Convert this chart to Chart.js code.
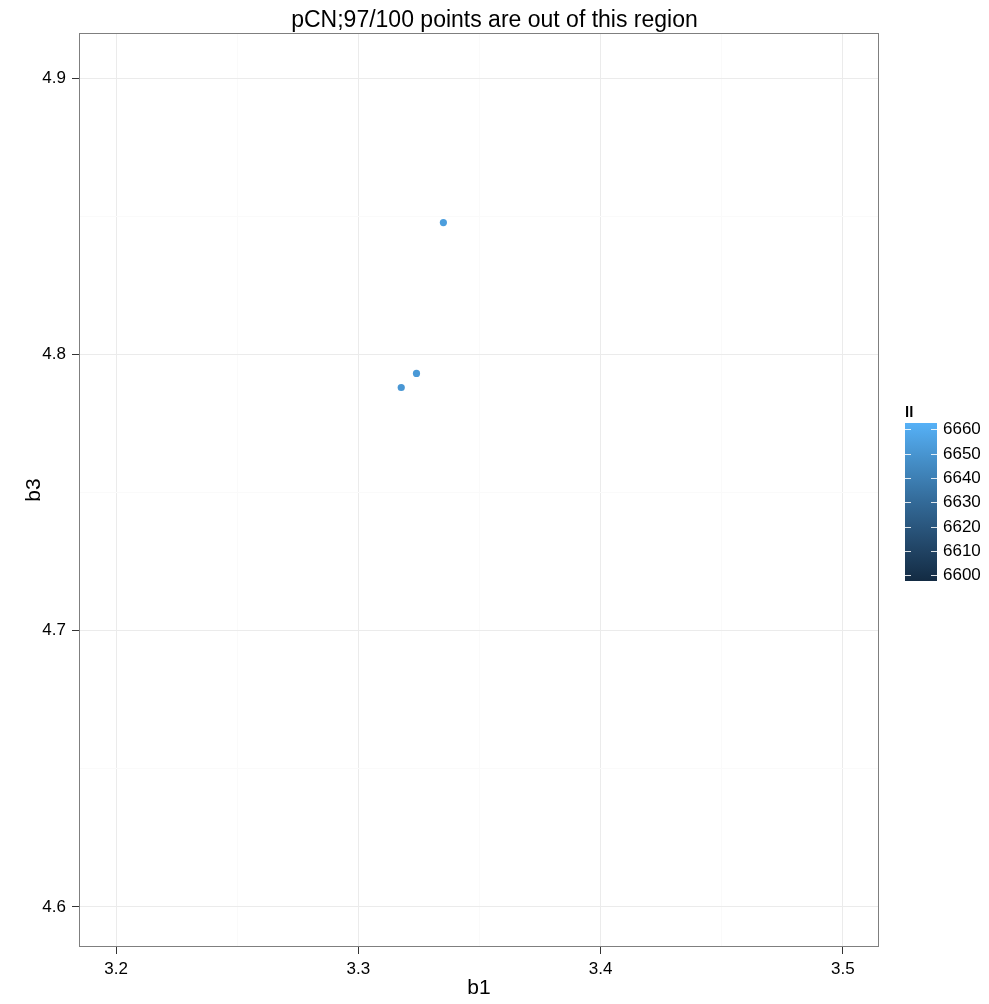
<!DOCTYPE html>
<html>
<head>
<meta charset="utf-8">
<script src="https://cdn.jsdelivr.net/npm/chart.js@4/dist/chart.umd.min.js"></script>
<style>
  html, body { margin: 0; padding: 0; background: #fff; }
  #wrap { width: 989px; height: 1004px; }
</style>
</head>
<body>
<div id="wrap"><canvas id="scatter"></canvas></div>
<script>
// data
var b1 = [3.3351, 3.3240, 3.3177];
var b3 = [4.8477, 4.7931, 4.7880];
var ll = [6654, 6652, 6651];

var xMajor = [3.2, 3.3, 3.4, 3.5];
var xMinor = [3.25, 3.35, 3.45];
var yMajor = [4.6, 4.7, 4.8, 4.9];
var yMinor = [4.65, 4.75, 4.85];
var llBreaks = [6600, 6610, 6620, 6630, 6640, 6650, 6660];
var llLimits = [6597.7, 6662.6];

var FONT = "'Liberation Sans', Arial, sans-serif";

// approx of ggplot's Lab gradient #132B43 -> #56B1F7
var gradStops = [
    [0, [19, 43, 67]],
    [0.25, [36, 74, 109]],
    [0.5, [51, 106, 152]],
    [0.75, [68, 141, 198]],
    [1, [86, 177, 247]]
];
function llColor(v) {
    var t = (v - llLimits[0]) / (llLimits[1] - llLimits[0]);
    t = Math.max(0, Math.min(1, t));
    for (var i = 1; i < gradStops.length; i++) {
        if (t <= gradStops[i][0]) {
            var a = gradStops[i - 1], b = gradStops[i];
            var f = (t - a[0]) / (b[0] - a[0]);
            var c = a[1].map(function(x, k) { return Math.round(x + (b[1][k] - x) * f); });
            return 'rgb(' + c.join(',') + ')';
        }
    }
    return 'rgb(86,177,247)';
}

function isMajor(v, list) {
    return list.some(function(m) { return Math.abs(m - v) < 1e-6; });
}

var panelPlugin = {
    id: 'panel',
    afterDraw: function(chart) {
        var ctx = chart.ctx, a = chart.chartArea;
        ctx.save();
        // panel border
        ctx.strokeStyle = '#7f7f7f';
        ctx.lineWidth = 1;
        ctx.strokeRect(a.left + 0.5, a.top + 0.5, a.right - a.left - 1, a.bottom - a.top - 1);

        // colour bar legend
        var bx = a.right + 26, by = 423, bw = 32, bh = 158;
        ctx.fillStyle = '#000';
        ctx.font = 'bold 15px ' + FONT;
        ctx.textAlign = 'left';
        ctx.textBaseline = 'alphabetic';
        ctx.fillText('ll', bx, by - 6);

        var g = ctx.createLinearGradient(0, by + bh, 0, by);
        gradStops.forEach(function(s) { g.addColorStop(s[0], 'rgb(' + s[1].join(',') + ')'); });
        ctx.fillStyle = g;
        ctx.fillRect(bx, by, bw, bh);

        ctx.font = '17px ' + FONT;
        ctx.textBaseline = 'middle';
        llBreaks.forEach(function(v) {
            var y = Math.round(by + bh - (v - llLimits[0]) / (llLimits[1] - llLimits[0]) * bh) + 0.5;
            ctx.strokeStyle = 'rgba(255,255,255,0.85)';
            ctx.beginPath();
            ctx.moveTo(bx, y); ctx.lineTo(bx + 6, y);
            ctx.moveTo(bx + bw - 6, y); ctx.lineTo(bx + bw, y);
            ctx.stroke();
            ctx.fillStyle = '#000';
            ctx.fillText(String(v), bx + bw + 6, y);
        });
        ctx.restore();
    }
};

document.addEventListener('DOMContentLoaded', function() {
    var ctx = document.getElementById('scatter').getContext('2d');
    var points = b1.map(function(x, i) { return { x: x, y: b3[i] }; });

    new Chart(ctx, {
        type: 'scatter',
        data: {
            datasets: [{
                label: 'll',
                data: points,
                backgroundColor: ll.map(llColor),
                borderWidth: 0,
                pointRadius: 3.6,
                pointHoverRadius: 3.6
            }]
        },
        options: {
            responsive: true,
            maintainAspectRatio: false,
            animation: false,
            layout: { padding: 0 },
            plugins: {
                legend: { display: false },
                tooltip: { enabled: false },
                title: {
                    display: true,
                    text: 'pCN;97/100 points are out of this region',
                    color: '#000',
                    font: { family: FONT, size: 23, weight: 'normal', lineHeight: 1.0 },
                    padding: { top: 9, bottom: 1 }
                }
            },
            scales: {
                x: {
                    type: 'linear',
                    min: 3.1847,
                    max: 3.5149,
                    afterBuildTicks: function(s) {
                        s.ticks = xMajor.concat(xMinor).sort().map(function(v) { return { value: v }; });
                    },
                    afterFit: function(s) { s.height = 57; },
                    border: { display: false },
                    grid: {
                        color: function(c) { return isMajor(c.tick.value, xMajor) ? '#ebebeb' : '#fafafa'; },
                        tickColor: function(c) { return isMajor(c.tick.value, xMajor) ? '#333333' : 'rgba(0,0,0,0)'; },
                        tickLength: 7,
                        lineWidth: 1
                    },
                    ticks: {
                        autoSkip: false,
                        maxRotation: 0,
                        padding: 5,
                        color: '#000',
                        font: { family: FONT, size: 17 },
                        callback: function(v) { return isMajor(v, xMajor) ? v.toFixed(1) : ''; }
                    },
                    title: {
                        display: true,
                        text: 'b1',
                        color: '#000',
                        font: { family: FONT, size: 21 },
                        padding: { top: 0, bottom: 3 }
                    }
                },
                y: {
                    type: 'linear',
                    min: 4.5855,
                    max: 4.9163,
                    afterBuildTicks: function(s) {
                        s.ticks = yMajor.concat(yMinor).sort().map(function(v) { return { value: v }; });
                    },
                    afterFit: function(s) { s.width = 79; },
                    border: { display: false },
                    grid: {
                        color: function(c) { return isMajor(c.tick.value, yMajor) ? '#ebebeb' : '#fafafa'; },
                        tickColor: function(c) { return isMajor(c.tick.value, yMajor) ? '#333333' : 'rgba(0,0,0,0)'; },
                        tickLength: 7,
                        lineWidth: 1
                    },
                    ticks: {
                        autoSkip: false,
                        padding: 6,
                        color: '#000',
                        font: { family: FONT, size: 17 },
                        callback: function(v) { return isMajor(v, yMajor) ? v.toFixed(1) : ''; }
                    },
                    title: {
                        display: true,
                        text: 'b3',
                        color: '#000',
                        font: { family: FONT, size: 21 },
                        padding: { top: 22, bottom: 0 }
                    }
                },
                // empty right axis: only reserves room for the colour bar
                legendSpace: {
                    type: 'linear',
                    position: 'right',
                    display: true,
                    afterFit: function(s) { s.width = 110; },
                    border: { display: false },
                    grid: { display: false, drawTicks: false },
                    ticks: { display: false }
                }
            }
        },
        plugins: [panelPlugin]
    });
});
</script>
</body>
</html>
